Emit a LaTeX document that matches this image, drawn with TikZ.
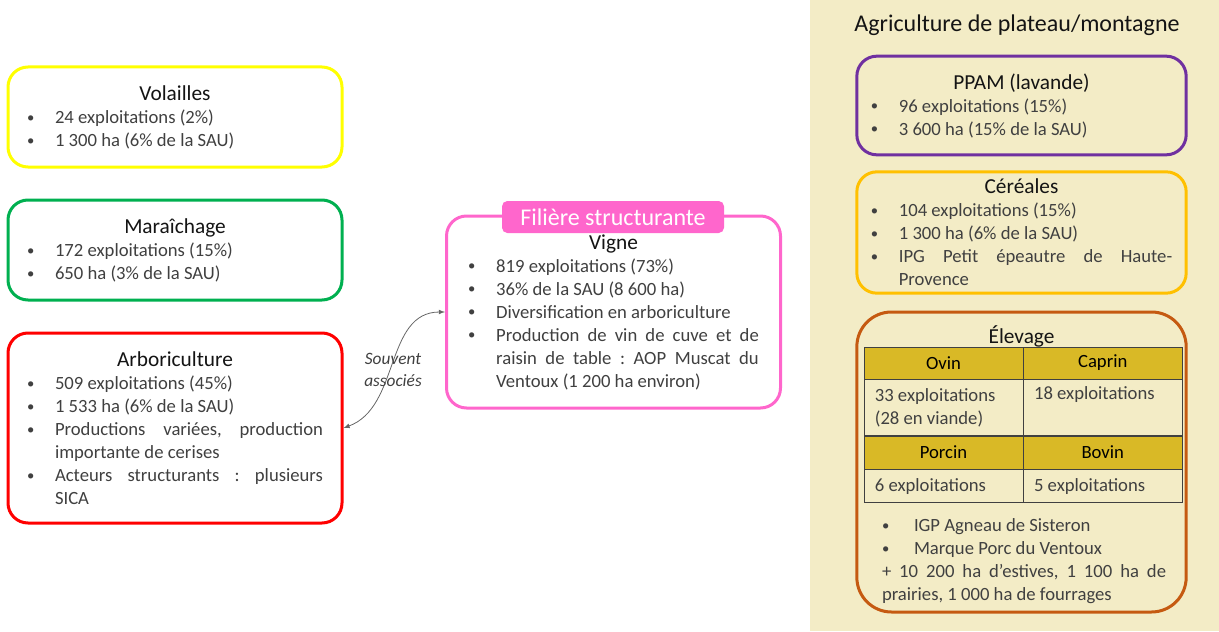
\documentclass[tikz,border=0pt]{standalone}
\usepackage{fontspec}
\setmainfont{Carlito}
\usetikzlibrary{positioning}

\definecolor{cJaune}{RGB}{255,255,0}
\definecolor{cVert}{RGB}{0,176,80}
\definecolor{cRouge}{RGB}{255,0,0}
\definecolor{cRose}{RGB}{255,102,204}
\definecolor{cViolet}{RGB}{112,48,160}
\definecolor{cOrange}{RGB}{255,192,0}
\definecolor{cBrun}{RGB}{197,90,17}
\definecolor{cFond}{RGB}{243,236,198}
\definecolor{cOr}{RGB}{217,185,38}
\definecolor{cTexte}{RGB}{64,64,64}
\definecolor{cTitre}{RGB}{20,20,20}

\hyphenpenalty=10000
\frenchspacing
\newcommand{\titre}[1]{{\centering\color{cTitre}\fontsize{16}{20}\selectfont #1\par}}
\newcommand{\puce}[1]{\par\noindent\hangindent=21pt\hangafter=1\makebox[21pt][l]{\raisebox{0.8pt}{\fontsize{11}{11}\selectfont\textbullet}}#1\par}

\begin{document}
\begin{tikzpicture}[x=0.75pt, y=-0.75pt]
\tikzstyle{filiere}=[draw, line width=2.25pt, rounded corners=15pt, fill=white, inner sep=0pt, align=justify, text=cTexte, font=\fontsize{14}{17.25}\selectfont]
\tikzstyle{gauche}=[filiere, text width=222pt, minimum width=250.5pt, minimum height=75pt]
\tikzstyle{droite}=[filiere, fill=none, text width=226pt, minimum width=247pt, minimum height=74pt]
\tikzstyle{entete}=[draw=cTexte, fill=cOr, text=black, inner sep=0pt, minimum width=119pt, minimum height=24pt, font=\fontsize{14}{17.25}\selectfont]
\tikzstyle{cellule}=[draw=cTexte, text=cTexte, inner sep=0pt, text width=103pt, align=flush left, minimum width=119pt, font=\fontsize{14}{17.25}\selectfont]

\useasboundingbox (0,0) rectangle (1219,631);
\fill[cFond] (810,0) rectangle (1219,631);

\coordinate (volailles) at (175,117);
\coordinate (maraichage) at (175,250);
\coordinate (arbo) at (175,428);
\coordinate (vigne) at (613.5,312);

\coordinate (ppam) at (1021.5,105.5);
\coordinate (cereales) at (1021.5,232.5);
\coordinate (elevage) at (1021.5,462);

% filieres de plaine
\node[gauche, draw=cJaune] (volailles) at (volailles) {\titre{Volailles}\puce{24 exploitations (2\%)}\puce{1~300 ha (6\% de la SAU)}};
\node[gauche, draw=cVert] (maraichage) at (maraichage) {\titre{Maraîchage}\puce{172 exploitations (15\%)}\puce{650 ha (3\% de la SAU)}};
\node[gauche, draw=cRouge, minimum height=142.5pt] (arbo) at (arbo) {\titre{Arboriculture}\puce{509 exploitations (45\%)}\puce{1~533 ha (6\% de la SAU)}\puce{Productions variées, production\linebreak importante de cerises}\puce{Acteurs structurants : plusieurs\linebreak SICA}};

\node[gauche, draw=cRose, text width=218pt, minimum height=144pt] (vigne) at (vigne) {\titre{Vigne}\puce{819 exploitations (73\%)}\puce{36\% de la SAU (8~600 ha)}\puce{Diversification en arboriculture}\puce{Production de vin de cuve et de raisin de table : AOP Muscat du\linebreak Ventoux (1~200 ha environ)}};
\node[fill=cRose, text=white, rounded corners=4pt, minimum width=166.5pt, minimum height=24pt, inner sep=0pt, font=\fontsize{18}{22}\selectfont] (structurante) at (613,217) {Filière structurante};

\draw[gray!80!black, line width=0.6pt, latex-latex] (vigne.west) to[out=180, in=20] (arbo.east);
\node[text=cTexte, align=center, font=\fontsize{13}{17}\selectfont\itshape] (associes) at (393,370) {Souvent\\associés};

% plateau / montagne
\node[text=cTitre, font=\fontsize{18}{22}\selectfont] (plateau) at (1017,25) {Agriculture de plateau/montagne};

\node[droite, draw=cViolet] (ppam) at (ppam) {\titre{PPAM (lavande)}\puce{96 exploitations (15\%)}\puce{3~600 ha (15\% de la SAU)}};
\node[droite, draw=cOrange, minimum height=91pt] (cereales) at (cereales) {\titre{Céréales}\puce{104 exploitations (15\%)}\puce{1~300 ha (6\% de la SAU)}\puce{IPG Petit épeautre de Haute-Provence}};
\node[droite, draw=cBrun, minimum height=225pt, rounded corners=26pt] (elevage) at (elevage) {};
\node[text=cTitre, font=\fontsize{16}{20}\selectfont] (elevagetitre) at (1021.5,336) {Élevage};

\node[entete] (ovin) at (943.5,363) {Ovin};
\node[entete, right=0pt of ovin] (caprin) {Caprin};
\node[cellule, minimum height=42pt, below=0pt of ovin] (ovinnb) {33 exploitations\\(28 en viande)};
\node[cellule, minimum height=42pt, below=0pt of caprin] (caprinnb) {18 exploitations\\\strut};
\node[entete, minimum height=24.75pt, below=0pt of ovinnb] (porcin) {Porcin};
\node[entete, minimum height=24.75pt, below=0pt of caprinnb] (bovin) {Bovin};
\node[cellule, minimum height=24.75pt, below=0pt of porcin] (porcinnb) {6 exploitations};
\node[cellule, minimum height=24.75pt, below=0pt of bovin] (bovinnb) {5 exploitations};

\node[filiere, draw=none, fill=none, text width=213pt] (labels) at (1024,556) {\puce{\hspace{3pt}IGP Agneau de Sisteron}\puce{\hspace{3pt}Marque Porc du Ventoux}\noindent + 10~200 ha d’estives, 1~100 ha de prairies, 1~000 ha de fourrages};

\end{tikzpicture}
\end{document}
